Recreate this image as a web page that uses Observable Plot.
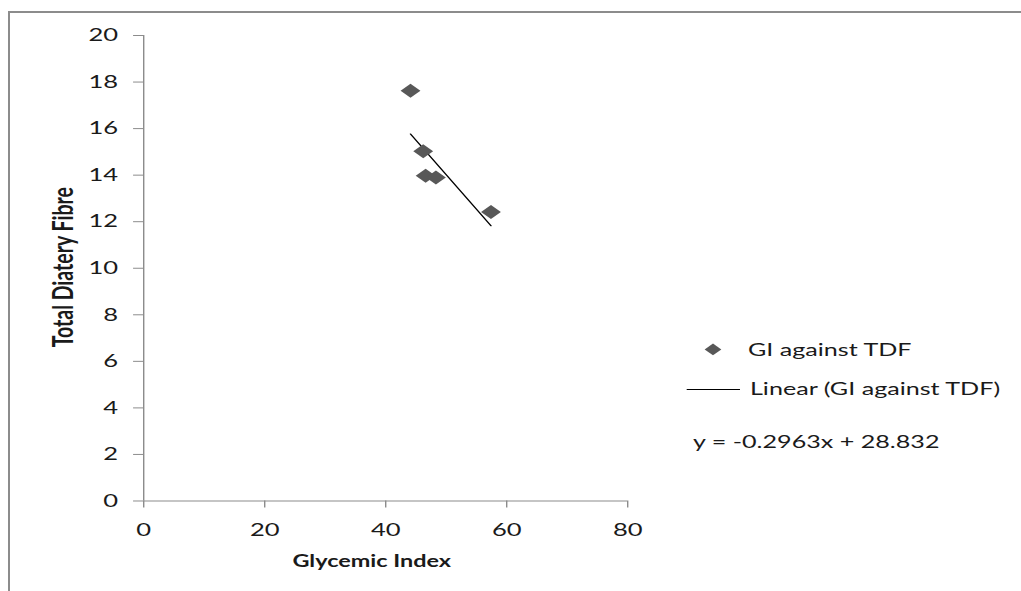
<!DOCTYPE html>
<html><head><meta charset="utf-8">
<script src="https://cdn.jsdelivr.net/npm/d3@7"></script>
<script src="https://cdn.jsdelivr.net/npm/@observablehq/plot@0.6"></script>
<style>
html,body{margin:0;padding:0;background:#fff;}
#wrap{position:relative;width:1021px;height:591px;overflow:hidden;background:#fff;}
#border{position:absolute;left:8px;top:11px;width:2000px;height:2000px;border-left:2px solid #8c8c8c;border-top:2px solid #8c8c8c;box-sizing:border-box;}
#chart{position:absolute;left:0;top:0;transform-origin:0 0;}
#chart svg{display:block;}
</style></head><body>
<div id="wrap"><div id="border"></div><div id="chart"></div></div>
<script>
// ---- data ----
const glycemicIndex = [44.1, 46.2, 46.6, 48.3, 57.4];
const totalDietaryFibre = [17.63, 15.03, 13.97, 13.9, 12.42];
const xTicks = [0, 20, 40, 60, 80];
const yTicks = [0, 2, 4, 6, 8, 10, 12, 14, 16, 18, 20];
const trendSlope = -0.2963;
const trendIntercept = 28.832;
const seriesName = "GI against TDF";
const trendName = "Linear (GI against TDF)";
const equationText = "y = -0.2963x + 28.832";
const xLabel = "Glycemic Index";
const yLabel = "Total Diatery Fibre";

// ---- build ----
const S = 1.42; // horizontal stretch of the original picture
const W = 1021 / S;
const points = glycemicIndex.map((g, i) => ({gi: g, tdf: totalDietaryFibre[i]}));
const xMin = d3.min(glycemicIndex), xMax = d3.max(glycemicIndex);
const trend = [xMin, xMax].map(x => ({gi: x, tdf: trendSlope * x + trendIntercept}));

const fill = "#585858", axisGray = "#8c8c8c", ink = "#1a1a1a";

const chart = Plot.plot({
  width: W,
  height: 591,
  marginLeft: 143 / S,
  marginRight: W - 627 / S,
  marginTop: 35,
  marginBottom: 90.5,
  x: {domain: [0, 80]},
  y: {domain: [0, 20]},
  style: {fontFamily: "Lato, sans-serif", background: "transparent", overflow: "visible", color: ink},
  marks: [
    Plot.ruleY([0], {stroke: axisGray, strokeWidth: 1}),
    Plot.ruleX([0], {stroke: axisGray, strokeWidth: 1}),
    Plot.axisX({ticks: xTicks, tickSize: 7, tickPadding: 15, fontSize: 18, stroke: axisGray, color: ink, label: null}),
    Plot.axisY({ticks: yTicks, tickSize: 7, tickPadding: 11, fontSize: 18, stroke: axisGray, color: ink, label: null}),
    Plot.line(trend, {x: "gi", y: "tdf", stroke: "#000", strokeWidth: 1.1}),
    Plot.dot(points, {x: "gi", y: "tdf", symbol: "diamond2", r: 6.3, fill: fill, stroke: "none"}),
    Plot.text([xLabel], {frameAnchor: "bottom", textAnchor: "middle", dx: 261.3 - (143 + 627) / 2 / S, dy: 61, lineAnchor: "middle", fontSize: 16.5, fontWeight: "bold", fill: ink}),
    Plot.text([yLabel], {frameAnchor: "left", textAnchor: "middle", rotate: -90, dx: 45 - 143 / S, dy: -1, lineAnchor: "middle", fontSize: 19.5, fontWeight: "bold", fill: ink})
  ]
});

// legend
const svg = d3.select(chart);
const lg = svg.append("g").attr("font-family", "Lato, sans-serif").attr("font-size", 17.7)
  .attr("fill", ink).attr("text-anchor", "start");
lg.append("path")
  .attr("d", d3.symbol(d3.symbolDiamond2, Math.PI * 5.3 * 5.3)())
  .attr("transform", `translate(${713 / S},349.5)`)
  .attr("fill", fill);
lg.append("text").attr("x", 748 / S).attr("y", 356).text(seriesName);
lg.append("line").attr("x1", 686.7 / S).attr("x2", 740 / S).attr("y1", 389.5).attr("y2", 389.5)
  .attr("stroke", "#000").attr("stroke-width", 1);
lg.append("text").attr("x", 750 / S).attr("y", 395).text(trendName);
lg.append("text").attr("x", 693 / S).attr("y", 448).text(equationText);

chart.style.transform = `scaleX(${S})`;
chart.style.transformOrigin = "0 0";
document.getElementById("chart").appendChild(chart);
</script>
</body></html>
